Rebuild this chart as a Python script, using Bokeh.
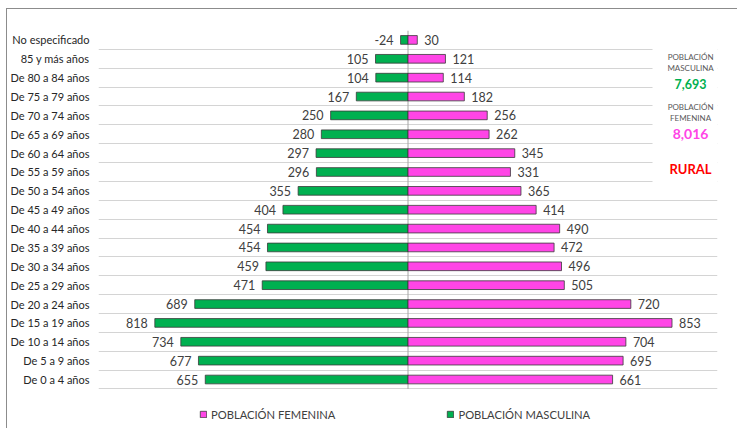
from bokeh.plotting import figure
from bokeh.models import (ColumnDataSource, Range1d, FixedTicker, LabelSet, Label,
                          BoxAnnotation, Legend, LegendItem)
from bokeh.core.properties import value
from bokeh.embed import file_html
from bokeh.resources import INLINE

# ---- data (top to bottom as in the chart) ----
categories = ["No especificado", "85 y más años", "De 80 a 84 años", "De 75 a 79 años",
              "De 70 a 74 años", "De 65 a 69 años", "De 60 a 64 años", "De 55 a 59 años",
              "De 50 a 54 años", "De 45 a 49 años", "De 40 a 44 años", "De 35 a 39 años",
              "De 30 a 34 años", "De 25 a 29 años", "De 20 a 24 años", "De 15 a 19 años",
              "De 10 a 14 años", "De 5 a 9 años", "De 0 a 4 años"]
masculina = [24, 105, 104, 167, 250, 280, 297, 296, 355, 404, 454, 454, 459, 471, 689, 818, 734, 677, 655]
femenina = [30, 121, 114, 182, 256, 262, 345, 331, 365, 414, 490, 472, 496, 505, 720, 853, 704, 695, 661]
masc_labels = ["-24", "105", "104", "167", "250", "280", "297", "296", "355", "404", "454",
               "454", "459", "471", "689", "818", "734", "677", "655"]
fem_labels = [str(v) for v in femenina]
total_masculina = "7,693"
total_femenina = "8,016"
zona = "RURAL"

FONT = "Lato"
GREEN = "#00B050"
PINK = "#FF45E6"

n = len(categories)
ypos = [n - 1 - i for i in range(n)]
EXTRA = 2.15  # room under the rows for the legend
ROW = 18.87   # approx px per row, for placing side notes

src = ColumnDataSource(dict(
    y=ypos,
    mneg=[-v for v in masculina],
    f=femenina,
    ml=masc_labels,
    fl=fem_labels,
))

p = figure(width=731, height=420, output_backend="svg", toolbar_location=None,
           x_range=Range1d(-1000, 1000), y_range=Range1d(-0.5 - EXTRA, n - 0.5),
           min_border_left=90, min_border_right=21, min_border_top=21,
           min_border_bottom=0)
p.outline_line_color = None
p.styles = {"border-left": "1px solid #8c8c8c", "border-top": "1px solid #8c8c8c",
            "margin-left": "6px", "margin-top": "8px"}

p.xaxis.visible = False
p.xgrid.visible = False

p.yaxis.ticker = FixedTicker(ticks=ypos)
p.yaxis.major_label_overrides = {y: c for y, c in zip(ypos, categories)}
p.yaxis.axis_line_color = None
p.yaxis.major_tick_line_color = None
p.yaxis.minor_tick_line_color = None
p.yaxis.major_tick_out = 0
p.yaxis.major_tick_in = 0
p.yaxis.minor_tick_out = 0
p.yaxis.major_label_standoff = 9
p.yaxis.major_label_text_font = FONT
p.yaxis.major_label_text_font_size = "11px"
p.yaxis.major_label_text_color = "#262626"

p.ygrid.ticker = FixedTicker(ticks=[i - 0.5 for i in range(n + 1)])
p.ygrid.grid_line_color = "#d4d4d4"
p.ygrid.grid_line_width = 1

# zero axis line
p.segment(x0=[0], x1=[0], y0=[-0.5], y1=[n - 0.5], line_color="#a6a6a6", line_width=1)

rm = p.hbar(y="y", left="mneg", right=0, height=0.46, source=src,
            fill_color=GREEN, line_color="#3a3a3a", line_width=0.8)
rf = p.hbar(y="y", left=0, right="f", height=0.46, source=src,
            fill_color=PINK, line_color="#3a3a3a", line_width=0.8)

p.add_layout(BoxAnnotation(left=790, right=1000, bottom=n - 9, top=n - 0.5,
                           fill_color="white", fill_alpha=1.0, line_color=None,
                           level="underlay"))

p.add_layout(LabelSet(x="mneg", y="y", text="ml", source=src, x_offset=-7,
                      text_align="right", text_baseline="middle",
                      text_font=value(FONT), text_font_size="12.5px", text_color="#404040"))
p.add_layout(LabelSet(x="f", y="y", text="fl", source=src, x_offset=7,
                      text_align="left", text_baseline="middle",
                      text_font=value(FONT), text_font_size="12.5px", text_color="#404040"))

def side(text, yv, size, color, bold=False):
    p.add_layout(Label(x=913, y=yv, text=text, text_align="center", text_baseline="middle",
                       text_font=FONT, text_font_size=size, text_color=color,
                       text_font_style="bold" if bold else "normal"))

side("POBLACIÓN", n - 0.5 - (57 - 30.5) / ROW, "8px", "#595959")
side("MASCULINA", n - 0.5 - (68 - 30.5) / ROW, "8px", "#595959")
side(total_masculina, n - 0.5 - (84 - 30.5) / ROW, "12.5px", GREEN, True)
side("POBLACIÓN", n - 0.5 - (107 - 30.5) / ROW, "8px", "#595959")
side("FEMENINA", n - 0.5 - (118 - 30.5) / ROW, "8px", "#595959")
side(total_femenina, n - 0.5 - (134 - 30.5) / ROW, "14px", PINK, True)
side(zona, n - 0.5 - (169 - 30.5) / ROW, "13px", "#FF0000", True)

legend = Legend(items=[LegendItem(label="POBLACIÓN FEMENINA", renderers=[rf]),
                       LegendItem(label="POBLACIÓN MASCULINA", renderers=[rm])],
                orientation="horizontal", location=(101, 8),
                glyph_width=8, glyph_height=8, label_height=14, label_standoff=4,
                spacing=111, padding=0, margin=0,
                label_text_font=FONT, label_text_font_size="11.2px",
                label_text_color="#404040", border_line_color=None,
                background_fill_alpha=0)
p.add_layout(legend)

open("out.html", "w").write(file_html(p, INLINE))
